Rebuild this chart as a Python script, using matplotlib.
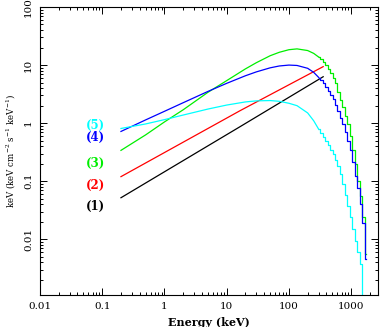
"""Model spectra (nuFnu) for five components, log-log plot."""
import matplotlib
matplotlib.use('Agg')
import matplotlib.pyplot as plt
import matplotlib.ticker as ticker

# smooth part of the curves (keV, keV cm^-2 s^-1 keV^-1)
smooth_e = [0.2, 0.5, 1, 2, 5, 10, 20, 30, 50, 70, 100, 135, 200, 250, 302]
green_f = [0.34, 0.63, 1.05, 1.7, 3.4, 5.4, 8.6, 11.0, 14.5, 16.6, 18.4, 19.0, 17.8, 15.9, 13.7]
blue_f = [0.72, 1.14, 1.6, 2.25, 3.52, 4.85, 6.55, 7.64, 8.97, 9.65, 10.0, 9.85, 8.8, 7.5, 6.1]
cyan_f = [0.81, 0.97, 1.15, 1.38, 1.75, 2.05, 2.32, 2.42, 2.45, 2.38, 2.2, 2.0, 1.5, 1.1, 0.78]

# binned high-energy tail
tail_e = [302, 331, 363, 398, 437, 479, 525, 575, 631, 692, 759, 832, 912, 1000,
          1096, 1202, 1318, 1445, 1585, 1738]
green_tail = [13.7, 12.5, 11.2, 9.9, 8.6, 7.27, 6.0, 4.9, 3.4, 2.55, 1.9, 1.35, 0.95, 0.6,
              0.35, 0.195, 0.1, 0.055, 0.024, 0.0056]
blue_tail = [6.1, 5.55, 4.9, 4.25, 3.6, 3.05, 2.6, 2.05, 1.65, 1.25, 0.95, 0.7, 0.5, 0.35,
             0.215, 0.125, 0.077, 0.041, 0.019, 0.0046]
cyan_tail = [0.78, 0.68, 0.575, 0.49, 0.42, 0.347, 0.29, 0.234, 0.182, 0.132, 0.089, 0.058,
             0.037, 0.024, 0.015, 0.0095, 0.006, 0.0038, 0.0003]

# pure power laws
pl_e = [0.2, 16.4, 355]
red_f = [0.12, 1.64, 9.4]
black_f = [0.052, 0.87, 6.3]

labels = ['(1)', '(2)', '(3)', '(4)', '(5)']
label_colors = ['black', '#ff0000', '#00ee00', '#0000ff', '#00ffff']
label_y = [0.037, 0.085, 0.20, 0.57, 0.91]

xticks = [0.01, 0.1, 1, 10, 100, 1000]
xtick_labels = ['0.01', '0.1', '1', '10', '100', '1000']
yticks = [0.01, 0.1, 1, 10, 100]
ytick_labels = ['0.01', '0.1', '1', '10', '100']

plt.rcParams['font.family'] = 'DejaVu Serif'
plt.rcParams['mathtext.fontset'] = 'dejavuserif'

fig = plt.figure(figsize=(3.82, 3.27), dpi=100)
ax = fig.add_axes([40 / 382, 1 - 295 / 327, 338 / 382, 288 / 327])

lw = 0.9
ax.plot(pl_e, black_f, color='black', lw=lw)
ax.plot(pl_e, red_f, color='#ff0000', lw=lw)
ax.plot(smooth_e, green_f, color='#00ee00', lw=lw)
ax.plot(tail_e, green_tail, color='#00ee00', lw=lw, drawstyle='steps-mid')
ax.plot(smooth_e, blue_f, color='#0000ff', lw=lw)
ax.plot(tail_e, blue_tail, color='#0000ff', lw=lw, drawstyle='steps-mid')
ax.plot(smooth_e, cyan_f, color='#00ffff', lw=lw)
ax.plot(tail_e[:len(cyan_tail)], cyan_tail, color='#00ffff', lw=lw, drawstyle='steps-mid')

for lab, col, y in zip(labels, label_colors, label_y):
    ax.text(0.077, y, lab, color=col, fontsize=8.5, fontweight='bold',
            ha='center', va='center')

ax.set_xscale('log')
ax.set_yscale('log')
ax.set_xlim(0.01, 2700)
ax.set_ylim(1.1e-3, 100)

ax.set_xticks(xticks)
ax.set_xticklabels(xtick_labels)
ax.set_yticks(yticks)
ax.set_yticklabels(ytick_labels, rotation=90, va='center')
ax.xaxis.set_minor_formatter(ticker.NullFormatter())
ax.yaxis.set_minor_formatter(ticker.NullFormatter())

ax.tick_params(which='both', direction='in', top=True, right=True, labelsize=7.5, width=0.7)
ax.tick_params(which='major', length=5, pad=5)
ax.tick_params(which='minor', length=2.5)
for sp in ax.spines.values():
    sp.set_linewidth(0.8)

ax.set_xlabel('Energy (keV)', fontsize=8, fontweight='bold')
ax.set_ylabel(r'keV (keV cm$^{-2}$ s$^{-1}$ keV$^{-1}$)', fontsize=6.2)
ax.xaxis.set_label_coords(0.5, -0.077)
ax.yaxis.set_label_coords(-0.066, 0.5)

fig.savefig('out.png', dpi=100)
